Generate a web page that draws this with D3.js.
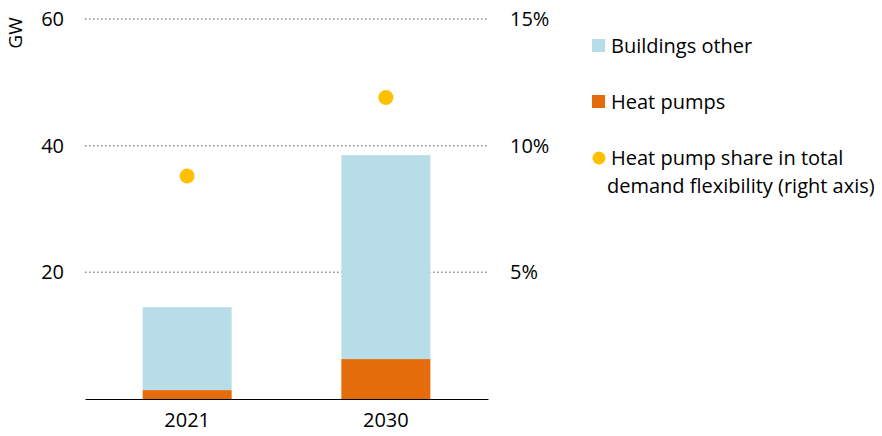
<!DOCTYPE html>
<html>
<head>
<meta charset="utf-8">
<script src="https://cdn.jsdelivr.net/npm/d3@7"></script>
<style>
  body { margin: 0; background: #fff; }
  text { font-family: "Open Sans", sans-serif; fill: #000; }
</style>
</head>
<body>
<div class="chart"></div>
<script>
var years = ['2021', '2030']
var heatPumps = [1.4, 6.3]
var buildingsOther = [13.1, 32.2]
var hpShare = [8.8, 11.9]
var leftTicks = [20, 40, 60]
var rightTicks = [5, 10, 15]

var margin = {top: 19, right: 394, bottom: 37, left: 85}
var width = 882 - margin.left - margin.right
var height = 436 - margin.top - margin.bottom

var svg = d3.select('.chart')
    .append('svg')
    .attr('width', 882)
    .attr('height', 436)
    .append('g')
    .attr('transform', 'translate(' + margin.left + ',' + margin.top + ')')

var xScale = d3.scaleBand()
    .domain(years)
    .range([0, width])
    .paddingInner(0.552)
    .paddingOuter(0.29)

var yScale = d3.scaleLinear()
    .domain([0, 60])
    .range([height, 0])

var yRight = d3.scaleLinear()
    .domain([0, 15])
    .range([height, 0])

// gridlines
svg.selectAll('.grid')
    .data(leftTicks)
    .enter()
    .append('line')
    .attr('x1', 0)
    .attr('x2', width)
    .attr('y1', function (d) { return yScale(d) })
    .attr('y2', function (d) { return yScale(d) })
    .attr('stroke', '#8c8c8c')
    .attr('stroke-width', 1.5)
    .attr('stroke-dasharray', '1.5,2.5')

// stacked bars
var stack = years.map(function (y, i) {
    return {year: y, hp: heatPumps[i], other: buildingsOther[i]}
})

svg.selectAll('.bar-other')
    .data(stack)
    .enter()
    .append('rect')
    .attr('x', function (d) { return xScale(d.year) })
    .attr('width', xScale.bandwidth())
    .attr('y', function (d) { return yScale(d.hp + d.other) })
    .attr('height', function (d) { return yScale(d.hp) - yScale(d.hp + d.other) })
    .attr('fill', '#b7dde8')

svg.selectAll('.bar-hp')
    .data(stack)
    .enter()
    .append('rect')
    .attr('x', function (d) { return xScale(d.year) })
    .attr('width', xScale.bandwidth())
    .attr('y', function (d) { return yScale(d.hp) })
    .attr('height', function (d) { return height - yScale(d.hp) })
    .attr('fill', '#e46c0a')

// share dots
svg.selectAll('.dot')
    .data(hpShare)
    .enter()
    .append('circle')
    .attr('cx', function (d, i) { return xScale(years[i]) + xScale.bandwidth() / 2 })
    .attr('cy', function (d) { return yRight(d) })
    .attr('r', 7.5)
    .attr('fill', '#ffc000')

// x axis
var xAxis = d3.axisBottom(xScale).tickSize(0).tickPadding(14)
var gx = svg.append('g')
    .attr('transform', 'translate(0,' + height + ')')
    .call(xAxis)
gx.select('.domain').attr('stroke', '#000').attr('stroke-width', 1.2)
gx.selectAll('text').style('font-size', '20px').attr('fill', '#000')

// left axis
var yAxis = d3.axisLeft(yScale).tickValues(leftTicks).tickSize(0).tickPadding(21)
var gy = svg.append('g').call(yAxis)
gy.select('.domain').remove()
gy.selectAll('text').style('font-size', '20px').attr('fill', '#000')

// right axis
var yAxisR = d3.axisRight(yRight).tickValues(rightTicks)
    .tickFormat(function (d) { return d + '%' }).tickSize(0).tickPadding(22)
var gr = svg.append('g')
    .attr('transform', 'translate(' + width + ',0)')
    .call(yAxisR)
gr.select('.domain').remove()
gr.selectAll('text').style('font-size', '20px').attr('fill', '#000')

svg.append('text')
    .attr('transform', 'translate(-63,14) rotate(-90)')
    .attr('text-anchor', 'middle')
    .style('font-size', '19px')
    .text('GW')

// legend
var legend = d3.select('svg').append('g')
var items = [
    {label: ['Buildings other'], color: '#b7dde8', shape: 'rect', y: 46},
    {label: ['Heat pumps'], color: '#e46c0a', shape: 'rect', y: 102},
    {label: ['Heat pump share in total', 'demand flexibility (right axis)'], color: '#ffc000', shape: 'circle', y: 158}
]
items.forEach(function (it) {
    if (it.shape === 'rect') {
        legend.append('rect').attr('x', 592).attr('y', it.y - 7).attr('width', 13).attr('height', 13).attr('fill', it.color)
    } else {
        legend.append('circle').attr('cx', 599).attr('cy', it.y).attr('r', 6.5).attr('fill', it.color)
    }
    var t = legend.append('text').attr('x', 611).attr('y', it.y + 7).style('font-size', '20px')
    it.label.forEach(function (l, i) {
        t.append('tspan').attr('x', i === 0 ? 611 : 607).attr('dy', i === 0 ? 0 : 28).text(l)
    })
})
</script>
</body>
</html>
